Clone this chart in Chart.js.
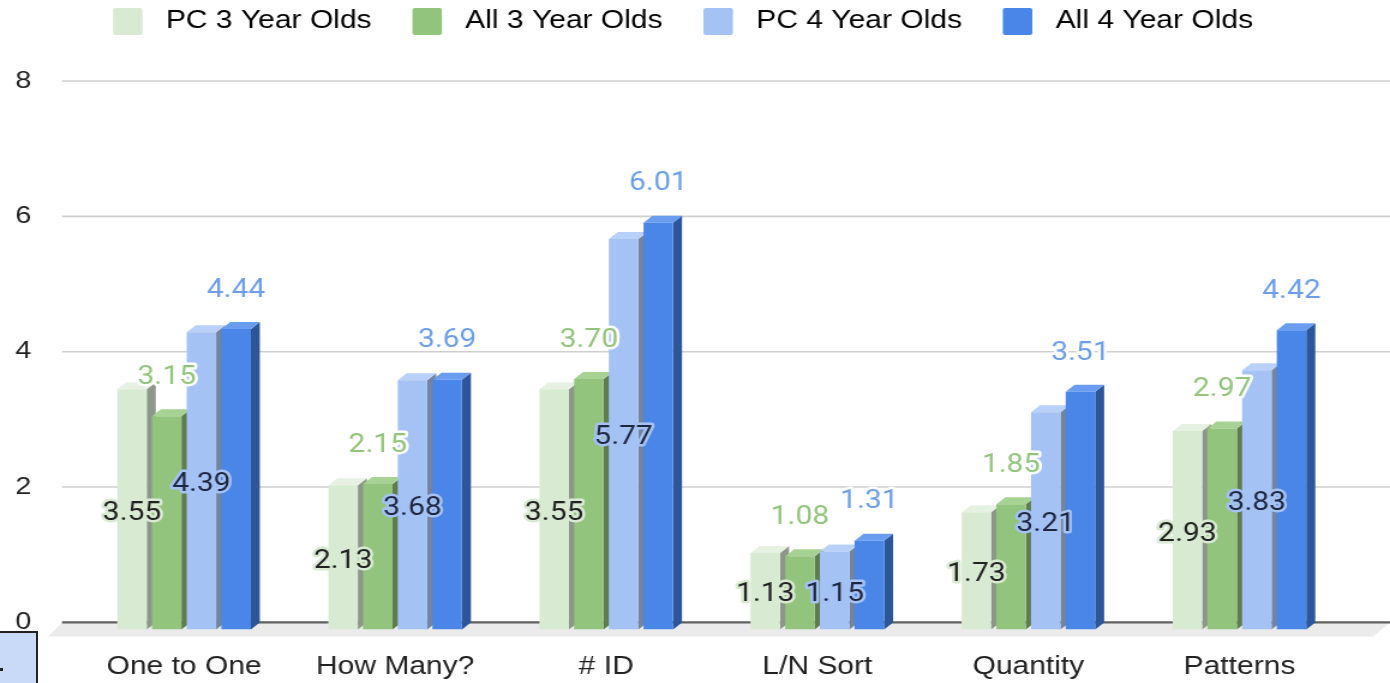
<!DOCTYPE html>
<html>
<head>
<meta charset="utf-8">
<script src="https://cdn.jsdelivr.net/npm/chart.js@4"></script>
<style>
html,body{margin:0;padding:0;background:#fff;overflow:hidden}
#wrap{position:relative;width:1390px;height:683px}
#c{position:absolute;left:0;top:0}
#cell{position:absolute;left:-2px;top:631px;width:40px;height:54px;background:#c9daf8;border:2px solid #222;box-sizing:border-box}
#dot{position:absolute;left:0;top:668px;width:3px;height:3px;background:#222}
</style>
</head>
<body>
<div id="wrap">
<canvas id="c" width="1158" height="683" style="width:1390px;height:683px"></canvas>
<div id="cell"></div><div id="dot"></div>
</div>
<script>
// ---- data ----
const categories = ['One to One', 'How Many?', '# ID', 'L/N Sort', 'Quantity', 'Patterns'];
const seriesNames = ['PC 3 Year Olds', 'All 3 Year Olds', 'PC 4 Year Olds', 'All 4 Year Olds'];
const pc3Values  = [3.55, 2.13, 3.55, 1.13, 1.73, 2.93];
const all3Values = [3.15, 2.15, 3.70, 1.08, 1.85, 2.97];
const pc4Values  = [4.39, 3.68, 5.77, 1.15, 3.21, 3.83];
const all4Values = [4.44, 3.69, 6.01, 1.31, 3.51, 4.42];
const yTickValues = [0, 2, 4, 6, 8];

// ---- styles ----
const frontColors = ['#d9ead3', '#93c47d', '#a4c2f4', '#4a86e8'];
const sideColors  = ['#8d9789', '#5d7d4f', '#72849f', '#2d569a'];
const topColors   = ['#e7f1e3', '#a6d293', '#b9d1f8', '#6a9cf0'];
const labelText   = ['#222222', '#93c47d', '#1f2740', '#6d9eeb'];
const labelHalo   = ['#d9ead3', '#ffffff', '#a4c2f4', '#ffffff'];
const labelInside = [true, false, true, false];

const S = 1390 / 1158;          // the reference is stretched horizontally
const px = v => v / S;
const DX = px(9), DY = 7;        // 3D depth offset

const depthPlugin = {
  id: 'depth3d',
  afterLayout(chart) {
    const lg = chart.legend;
    if (!lg || !lg.lineWidths) return;
    const p = lg.options.labels.padding;
    const start = (lg.left + p + lg.right - lg.lineWidths[0]) / 2;
    const sx = px(113) - start;
    lg.left += sx; lg.right += sx;
    const sy = 8 - (lg.top + p);
    lg.top += sy; lg.bottom += sy;
  },
  beforeDatasetsDraw(chart) {
    const {ctx, scales: {y}, chartArea} = chart;
    const y0 = y.getPixelForValue(0);
    const gl = chartArea.left - px(16.5);
    ctx.save();
    // floor
    ctx.fillStyle = '#ebebeb';
    ctx.beginPath();
    ctx.moveTo(gl, y0 - DY);
    ctx.lineTo(chart.width, y0 - DY);
    ctx.lineTo(chart.width - px(17), y0 + 7);
    ctx.lineTo(gl - px(14), y0 + 7);
    ctx.closePath();
    ctx.fill();
    // back-wall grid
    yTickValues.forEach(v => {
      const yy = y.getPixelForValue(v) - DY;
      ctx.beginPath();
      ctx.moveTo(gl, yy);
      ctx.lineTo(chart.width, yy);
      ctx.lineWidth = v === 0 ? 2.2 : 1.6;
      ctx.strokeStyle = v === 0 ? '#606060' : '#cfcfcf';
      ctx.stroke();
    });
    // side and top faces
    const n = chart.data.labels.length;
    for (let i = 0; i < n; i++) {
      chart.data.datasets.forEach((ds, d) => {
        const el = chart.getDatasetMeta(d).data[i];
        const {x, y: top, base, width} = el.getProps(['x', 'y', 'base', 'width'], true);
        const xl = x - width / 2, xr = x + width / 2;
        ctx.fillStyle = sideColors[d];
        ctx.beginPath();
        ctx.moveTo(xr, top); ctx.lineTo(xr + DX, top - DY);
        ctx.lineTo(xr + DX, base - DY); ctx.lineTo(xr, base);
        ctx.closePath(); ctx.fill();
        ctx.fillStyle = topColors[d];
        ctx.beginPath();
        ctx.moveTo(xl, top); ctx.lineTo(xr, top);
        ctx.lineTo(xr + DX, top - DY); ctx.lineTo(xl + DX, top - DY);
        ctx.closePath(); ctx.fill();
      });
    }
    ctx.restore();
  },
  afterDatasetsDraw(chart) {
    const {ctx} = chart;
    ctx.save();
    ctx.font = '25px Roboto, "Noto Sans", sans-serif';
    ctx.textAlign = 'center';
    ctx.textBaseline = 'middle';
    ctx.lineJoin = 'round';
    chart.data.datasets.forEach((ds, d) => {
      chart.getDatasetMeta(d).data.forEach((el, i) => {
        const {x, y: top, base} = el.getProps(['x', 'y', 'base'], true);
        const ty = labelInside[d] ? (top + base) / 2 + 4 : top - 38.5;
        const t = ds.data[i].toFixed(2);
        ctx.lineWidth = 5;
        ctx.strokeStyle = labelHalo[d];
        ctx.strokeText(t, x, ty);
        ctx.fillStyle = labelText[d];
        ctx.fillText(t, x, ty);
      });
    });
    ctx.restore();
  }
};

const seriesValues = [pc3Values, all3Values, pc4Values, all4Values];

const chart = new Chart(document.getElementById('c'), {
  type: 'bar',
  data: {
    labels: categories,
    datasets: seriesNames.map((name, d) => ({
      label: name,
      data: seriesValues[d],
      backgroundColor: frontColors[d],
      borderWidth: 0,
      categoryPercentage: 0.6575,
      barPercentage: 0.85
    }))
  },
  options: {
    responsive: false,
    animation: false,
    devicePixelRatio: 1,
    layout: { padding: { top: 17, right: 1158 - px(1345), bottom: 0, left: 0 } },
    plugins: {
      tooltip: { enabled: false },
      legend: {
        position: 'top',
        align: 'center',
        labels: {
          boxWidth: px(29.5),
          boxHeight: 27,
          padding: 34,
          color: '#222',
          useBorderRadius: true,
          borderRadius: 2,
          font: { family: '"Liberation Sans", Arial, sans-serif', size: 25 },
          generateLabels: ch => ch.data.datasets.map((ds, i) => ({
            text: ' ' + ds.label,
            fillStyle: ds.backgroundColor,
            strokeStyle: ds.backgroundColor,
            lineWidth: 0,
            hidden: false,
            datasetIndex: i,
            borderRadius: 2
          }))
        }
      }
    },
    scales: {
      x: {
        type: 'category',
        offset: true,
        grid: { display: false, drawTicks: false },
        border: { display: false },
        ticks: {
          color: '#222',
          padding: 23,
          maxRotation: 0,
          autoSkip: false,
          font: { family: '"Liberation Sans", Arial, sans-serif', size: 25 }
        },
        afterFit: s => { s.height = 53; }
      },
      y: {
        min: 0,
        max: 8,
        grid: { display: false, drawTicks: false },
        border: { display: false },
        afterBuildTicks: s => { s.ticks = yTickValues.map(v => ({ value: v })); },
        ticks: {
          color: '#222',
          padding: 39.2,
          labelOffset: -DY,
          font: { family: '"Liberation Sans", Arial, sans-serif', size: 24 }
        },
        afterFit: s => { s.width = px(78.5); }
      }
    }
  },
  plugins: [depthPlugin]
});

// fit the plot area to the reference frame
const dTop = 88 - chart.chartArea.top;
const dBot = chart.chartArea.bottom - 630;
if (Math.abs(dTop) > 0.05 || Math.abs(dBot) > 0.05) {
  const p = chart.options.layout.padding;
  chart.options.layout.padding = { top: p.top + dTop, right: p.right, bottom: p.bottom + dBot, left: p.left };
  chart.update();
}
</script>
</body>
</html>
